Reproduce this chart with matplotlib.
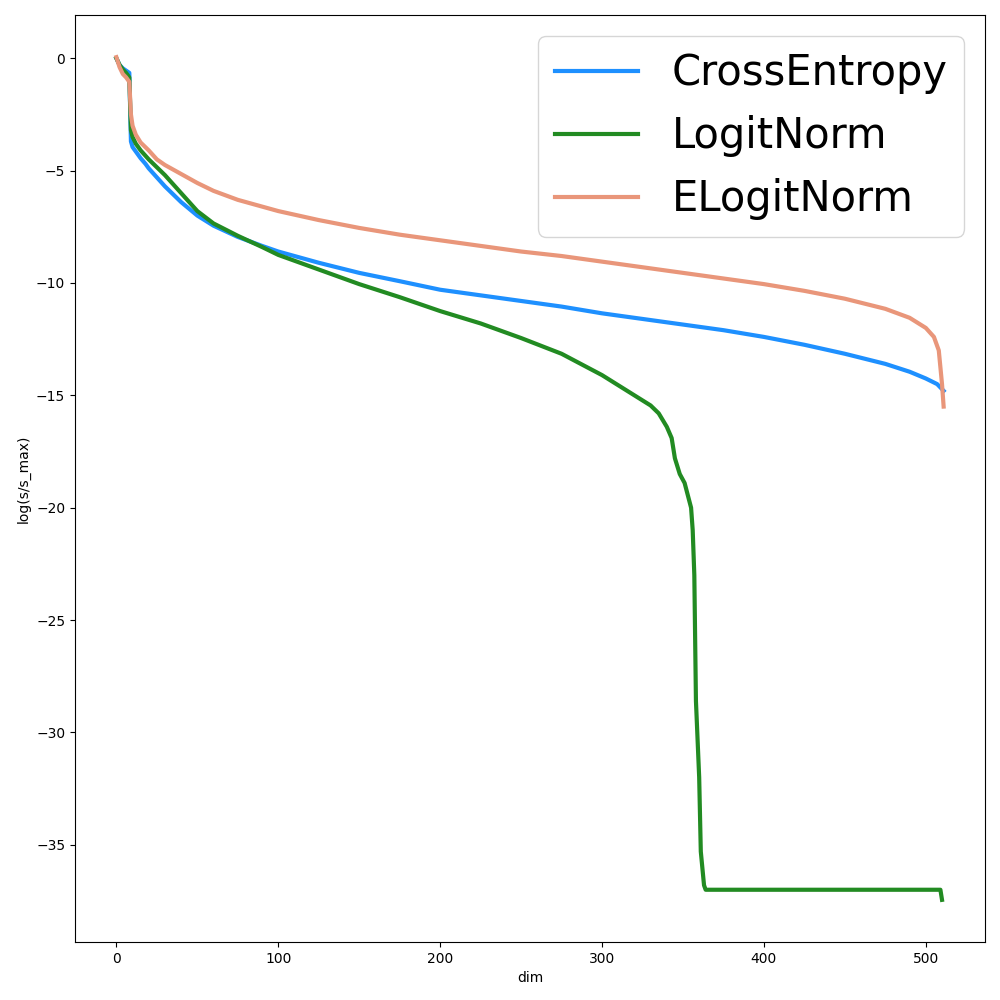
import matplotlib
matplotlib.use('Agg')
import matplotlib.pyplot as plt

# values (dim index, log of normalised singular value)
ce_dim = [0, 2, 4, 6, 7, 8, 9, 10, 12, 15, 18, 20, 25, 30, 40, 50, 60, 75, 90, 100,
          125, 150, 175, 200, 225, 250, 275, 300, 325, 350, 375, 400, 425, 450, 475,
          490, 500, 507, 511]
ce_val = [0, -0.3, -0.45, -0.55, -0.6, -0.65, -3.7, -3.95, -4.15, -4.45, -4.7, -4.9,
          -5.3, -5.7, -6.4, -7.0, -7.45, -7.95, -8.35, -8.6, -9.1, -9.55, -9.92, -10.3,
          -10.55, -10.8, -11.05, -11.35, -11.6, -11.85, -12.1, -12.4, -12.75, -13.15,
          -13.6, -13.95, -14.25, -14.5, -14.8]

ln_dim = [0, 2, 4, 6, 8, 9, 10, 12, 15, 20, 25, 30, 40, 50, 60, 75, 90, 100, 125, 150,
          175, 200, 225, 250, 275, 300, 310, 320, 330, 335, 340, 343, 345, 348, 351,
          355, 356, 357, 358, 360, 361, 363, 364, 400, 450, 500, 509, 510]
ln_val = [0, -0.3, -0.5, -0.65, -0.85, -3.2, -3.5, -3.8, -4.1, -4.5, -4.85, -5.2,
          -6.0, -6.8, -7.35, -7.9, -8.4, -8.75, -9.4, -10.05, -10.63, -11.25, -11.8,
          -12.45, -13.15, -14.1, -14.55, -15.0, -15.45, -15.8, -16.4, -16.9, -17.8,
          -18.5, -18.9, -20.0, -21.0, -23.0, -28.6, -32.0, -35.3, -36.8, -37.0,
          -37.0, -37.0, -37.0, -37.0, -37.45]

eln_dim = [0, 2, 4, 6, 8, 9, 10, 12, 15, 20, 25, 30, 40, 50, 60, 75, 90, 100, 125, 150,
           175, 200, 225, 250, 275, 300, 325, 350, 375, 400, 425, 450, 475, 490, 500,
           505, 508, 510, 511]
eln_val = [0.05, -0.4, -0.7, -0.85, -1.05, -2.5, -3.0, -3.4, -3.75, -4.1, -4.5, -4.75,
           -5.15, -5.55, -5.9, -6.3, -6.6, -6.8, -7.2, -7.55, -7.85, -8.1, -8.35, -8.6,
           -8.8, -9.05, -9.3, -9.55, -9.8, -10.05, -10.35, -10.7, -11.15, -11.55,
           -12.0, -12.4, -13.0, -14.5, -15.5]

fig, ax = plt.subplots(figsize=(10, 10), dpi=100)
ax.plot(ce_dim, ce_val, color='dodgerblue', linewidth=3, label='CrossEntropy')
ax.plot(ln_dim, ln_val, color='forestgreen', linewidth=3, label='LogitNorm')
ax.plot(eln_dim, eln_val, color='darksalmon', linewidth=3, label='ELogitNorm')
ax.set_xlabel('dim')
ax.set_ylabel('log(s/s_max)')
ax.legend(loc='upper right', fontsize=30)
plt.subplots_adjust(left=0.075, right=0.985, bottom=0.058, top=0.985)
plt.savefig('out.png')
